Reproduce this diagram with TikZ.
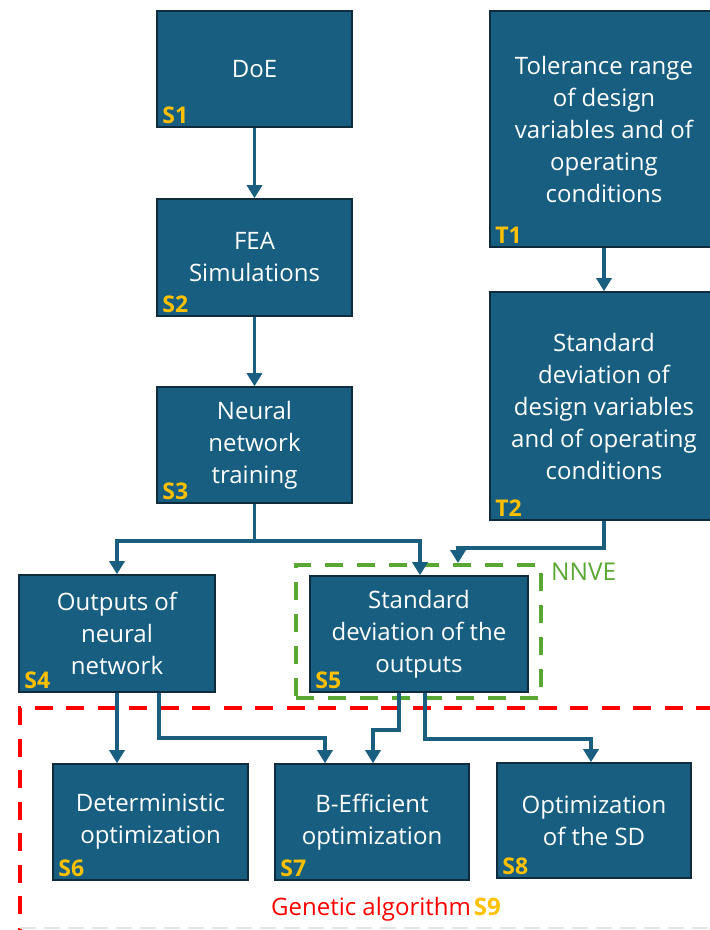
\documentclass[tikz,border=0pt]{standalone}
\usepackage{fontspec}
\setmainfont{Open Sans}
\usetikzlibrary{arrows.meta}

\definecolor{boxfill}{HTML}{175E80}
\definecolor{boxline}{HTML}{0E2C3C}
\definecolor{conn}{HTML}{1B5F80}
\definecolor{tagcol}{HTML}{FFC000}
\definecolor{nnvegreen}{HTML}{5AA834}
\definecolor{gared}{HTML}{FF0000}
\definecolor{faintgrey}{HTML}{E4E4E4}

\begin{document}
\begin{tikzpicture}[x=1pt,y=-1pt,
  stepbox/.style={draw=boxline, line width=1.6pt, fill=boxfill, text=white,
    align=center, inner sep=0pt, font=\fontsize{24}{32}\selectfont},
  tag/.style={text=tagcol, font=\fontsize{23}{26}\selectfont\bfseries,
    inner sep=0pt, anchor=base west},
  conn/.style={draw=conn, line width=3.4pt,
    -{Triangle[width=15pt,length=13pt]}},
  nnvebox/.style={draw=nnvegreen, line width=4pt,
    dash pattern=on 18pt off 14pt, inner sep=0pt},
  gabox/.style={draw=gared, line width=4pt, dash pattern=on 18pt off 13.5pt},
]
\useasboundingbox (0,0) rectangle (710,930);

% dashed groupings (drawn first so connectors and boxes lie on top)
\node[nnvebox, minimum width=245pt, minimum height=133pt] (nnve) at (418.5,631.5) {};
\node[text=nnvegreen, font=\fontsize{24.5}{28}\selectfont, anchor=base west, inner sep=0pt]
  (nnvelabel) at (551,580) {NNVE};

\coordinate (gatr) at (714,708);
\coordinate (gatl) at (20,708);
\coordinate (gabl) at (20,934);
\draw[gabox] (gatr) -- (gatl) -- (gabl);
\draw[faintgrey, line width=2pt, dash pattern=on 16pt off 8pt] (20,928) -- (714,928);

% process steps
\node[stepbox, minimum width=195pt, minimum height=116pt] (s1) at (254.5,69) {DoE};
\node[stepbox, minimum width=195pt, minimum height=117pt] (s2) at (254.5,257.5) {FEA\\Simulations};
\node[stepbox, minimum width=195pt, minimum height=116pt] (s3) at (254.5,445) {Neural\\network\\training};
\node[stepbox, minimum width=228pt, minimum height=236pt] (t1) at (604,129)
  {Tolerance range\\of design\\variables and of\\operating\\conditions};
\node[stepbox, minimum width=228pt, minimum height=228pt] (t2) at (604,406)
  {Standard\\deviation of\\design variables\\and of operating\\conditions};
\node[stepbox, minimum width=196pt, minimum height=117pt] (s4) at (117,633.5) {Outputs of\\neural\\network};
\node[stepbox, minimum width=218pt, minimum height=116pt] (s5) at (419,634) {Standard\\deviation of the\\outputs};
\node[stepbox, minimum width=195pt, minimum height=116pt] (s6) at (150.5,822) {Deterministic\\optimization};
\node[stepbox, minimum width=194pt, minimum height=116pt] (s7) at (372,822) {B-Efficient\\optimization};
\node[stepbox, minimum width=194pt, minimum height=115pt] (s8) at (594,820.5) {Optimization\\of the SD};

% step tags
\foreach \n/\t in {s1/S1, s2/S2, s3/S3, t1/T1, t2/T2, s4/S4, s5/S5, s6/S6, s7/S7, s8/S8}
  \node[tag] (tag-\n) at ([xshift=6pt,yshift=4.5pt]\n.south west) {\t};

% genetic algorithm caption
\node[anchor=base, inner sep=0pt, font=\fontsize{24}{28}\selectfont] (galabel) at (386,915)
  {\textcolor{gared}{Genetic algorithm}\hspace{3pt}\textcolor{tagcol}{\bfseries S9}};

% connectors
\draw[conn] (s1.south) -- (s2.north);
\draw[conn] (s2.south) -- (s3.north);
\draw[conn] (t1.south) -- (t2.north);
\draw[conn] (s3.south) -- ++(0,37) -| (s4.north);
\draw[conn] (s3.south) -- ++(0,37) -| ([xshift=1pt]s5.north);
\draw[conn] (t2.south) -- ++(0,27) -| ([xshift=39.5pt]nnve.north);
\draw[conn] (s4.south) -- (s4.south |- s6.north);
\draw[conn] ([xshift=42pt]s4.south) -- ++(0,45) -| ([xshift=-47pt]s7.north);
\draw[conn] ([xshift=-20pt]s5.south) -- ++(0,37) -| ([xshift=1pt]s7.north);
\draw[conn] ([xshift=6pt]s5.south) -- ++(0,46) -| ([xshift=-3pt]s8.north);
\end{tikzpicture}
\end{document}
